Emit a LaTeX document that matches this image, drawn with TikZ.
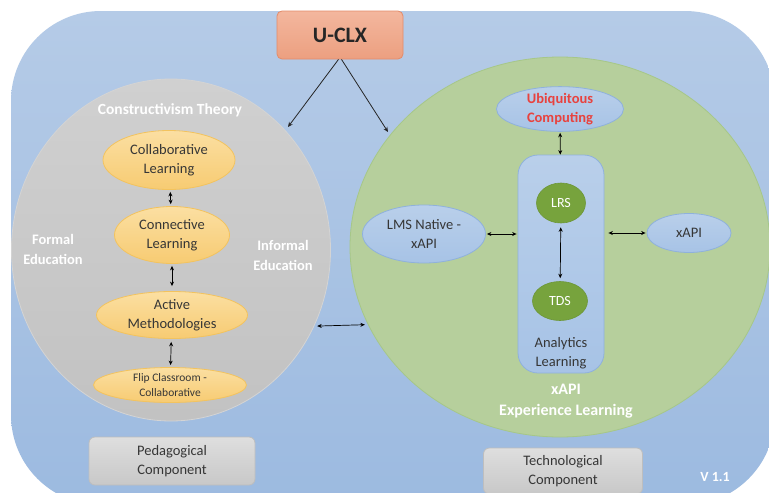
\documentclass[tikz,border=0pt]{standalone}
\usepackage{fontspec}
\setmainfont{Carlito}
\usetikzlibrary{arrows.meta,shapes.geometric}

\newcommand{\fsz}[2]{\fontsize{#1}{#2}\selectfont}

\definecolor{bgtop}{HTML}{B5CBE7}
\definecolor{bgbot}{HTML}{9CBAE0}
\definecolor{greytop}{HTML}{D0D0D0}
\definecolor{greybot}{HTML}{C2C2C2}
\definecolor{greyline}{HTML}{D4D4D4}
\definecolor{yeltop}{HTML}{FBDFA2}
\definecolor{yelbot}{HTML}{F7CB72}
\definecolor{yelline}{HTML}{F3C35E}
\definecolor{greenfill}{HTML}{B6CF9C}
\definecolor{greenline}{HTML}{A6C788}
\definecolor{lbtop}{HTML}{B9CFEA}
\definecolor{lbbot}{HTML}{A7C3E6}
\definecolor{lbline}{HTML}{8FB1DC}
\definecolor{lrsfill}{HTML}{77A33D}
\definecolor{lrsline}{HTML}{6C9637}
\definecolor{salmtop}{HTML}{F3B79E}
\definecolor{salmbot}{HTML}{EC9F80}
\definecolor{salmline}{HTML}{E48B69}
\definecolor{boxtop}{HTML}{DEDEDE}
\definecolor{boxbot}{HTML}{C8C8C8}
\definecolor{boxline}{HTML}{BEBEBE}
\definecolor{redtext}{HTML}{E8423E}
\definecolor{darktext}{HTML}{363636}

\begin{document}
\begin{tikzpicture}[x=1pt,y=-1pt,
  panel/.style={ellipse, inner sep=0pt, line width=0.8pt},
  yellowell/.style={ellipse, draw=yelline, line width=0.8pt, top color=yeltop,
    bottom color=yelbot, inner sep=0pt, align=center, text=darktext,
    font=\fsz{14.5}{19}},
  blueell/.style={ellipse, draw=lbline, line width=0.8pt, top color=lbtop,
    bottom color=lbbot, inner sep=0pt, align=center, text=darktext,
    font=\fsz{14.5}{19}},
  greenell/.style={ellipse, draw=lrsline, line width=0.6pt, fill=lrsfill,
    inner sep=0pt, text=white, font=\fsz{14}{17}},
  greybox/.style={rectangle, rounded corners=6pt, draw=boxline, line width=0.8pt,
    top color=boxtop, bottom color=boxbot, align=center, text=darktext,
    font=\fsz{14.5}{19}},
  whitelabel/.style={align=center, text=white, font=\bfseries\fsz{14.5}{20}},
  twoway/.style={arrows={Stealth[length=4.5pt,width=4pt]-Stealth[length=4.5pt,width=4pt]},
    line width=0.7pt, black},
  oneway/.style={arrows={-Stealth[length=5pt,width=4.5pt]}, line width=0.8pt, black!85}
]
\useasboundingbox (0,0) rectangle (769,493);
\fill[white] (0,0) rectangle (769,493);
\clip (0,0) rectangle (769,493);

% backdrop
\path[rounded corners=90pt, top color=bgtop, bottom color=bgbot]
  (11,11) rectangle (775,505);

% pedagogical side
\node[panel, draw=greyline, top color=greytop, bottom color=greybot,
  minimum width=319pt, minimum height=342pt] (peda) at (171,250) {};
\node[whitelabel, font=\bfseries\fsz{15.5}{18}] (ctheory) at (170,110) {Constructivism Theory};
\node[whitelabel] (formal) at (53,249) {Formal\\Education};
\node[whitelabel] (informal) at (283,255) {Informal\\Education};

\node[yellowell, minimum width=132pt, minimum height=59pt] (collab) at (169,160) {Collaborative\\Learning};
\node[yellowell, minimum width=115pt, minimum height=57pt] (connect) at (172,235) {Connective\\Learning};
\node[yellowell, minimum width=151pt, minimum height=47pt] (active) at (172,315) {Active\\Methodologies};
\node[yellowell, minimum width=153pt, minimum height=35pt, font=\fsz{11.5}{15}] (flip) at (170,385) {Flip Classroom -\\Collaborative};

\draw[twoway, shorten <=2pt, shorten >=2pt] (collab) -- (connect);
\draw[twoway, shorten <=2pt, shorten >=5pt] (connect) -- (active);
\draw[twoway, shorten <=3pt, shorten >=2pt] (active) -- (flip);

\node[greybox, minimum width=166pt, minimum height=48pt] (pedbox) at (172,461) {Pedagogical\\Component};

% technological side
\node[panel, draw=greenline, fill=greenfill,
  minimum width=420pt, minimum height=380pt] (tech) at (560,247) {};

\node[rectangle, rounded corners=20pt, draw=lbline, line width=0.8pt,
  top color=lbtop, bottom color=lbbot,
  minimum width=86pt, minimum height=218pt] (analytics) at (561,264) {};
\node[align=center, text=darktext, font=\fsz{14.5}{19}] (anltext) at (561,353) {Analytics\\Learning};

\node[blueell, minimum width=127pt, minimum height=38pt, text=redtext,
  font=\bfseries\fsz{14.5}{19}] (ubiq) at (560,109) {Ubiquitous\\Computing};
\node[greenell, minimum width=49pt, minimum height=40pt] (lrs) at (561,203) {LRS};
\node[greenell, minimum width=55pt, minimum height=39pt] (tds) at (560,301) {TDS};
\node[blueell, minimum width=123pt, minimum height=58pt] (lms) at (424,234) {LMS Native -\\xAPI};
\node[blueell, minimum width=84pt, minimum height=39pt] (xapi) at (689,233) {xAPI};

\draw[twoway, shorten <=1pt] (ubiq) -- (analytics);
\draw[twoway, shorten <=4pt, shorten >=3pt] (lrs) -- (tds);
\draw[twoway, shorten <=1pt, shorten >=1pt] (lms.east) -- (lms.east -| analytics.west);
\draw[twoway, shorten <=4pt, shorten >=1pt] (xapi.west -| analytics.east) -- (xapi.west);

\node[whitelabel, font=\bfseries\fsz{16}{21}] (xapiexp) at (566,401) {xAPI\\Experience Learning};

\node[greybox, minimum width=159pt, minimum height=46pt] (techbox) at (563,471) {Technological\\Component};

% linking the two components
\draw[twoway, shorten <=3pt, shorten >=3pt] (peda.-28) -- (tech.202);

% framework root
\node[rectangle, rounded corners=5pt, draw=salmline, line width=0.8pt,
  top color=salmtop, bottom color=salmbot, minimum width=126pt, minimum height=48pt,
  font=\bfseries\fsz{22}{26}, text=black!85] (uclx) at (340,35) {U-CLX};
\coordinate (toPeda) at (288,127);
\coordinate (toTech) at (388,132);
\draw[oneway] ([xshift=-1.5pt]uclx.south) -- (toPeda);
\draw[oneway] ([xshift=1.5pt]uclx.south) -- (toTech);

\node[whitelabel, font=\bfseries\fsz{14}{17}] (version) at (715,477) {V 1.1};
\end{tikzpicture}
\end{document}
